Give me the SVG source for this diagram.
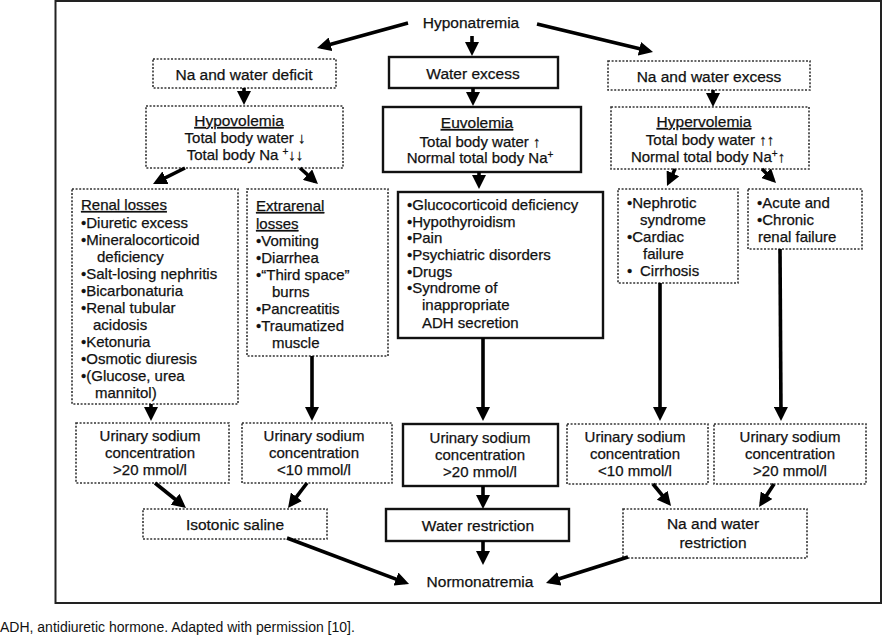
<svg xmlns="http://www.w3.org/2000/svg" width="883" height="636" viewBox="0 0 883 636">
<defs>
<style>
text{font-family:"Liberation Sans",Arial,Helvetica,sans-serif;font-size:15px;fill:#111;stroke:#111;stroke-width:0.25}
.c{text-anchor:middle}
.t{font-size:15.5px}
.u{text-decoration:underline}
.dot{fill:#fff;stroke:#333;stroke-width:1.6;stroke-dasharray:2 1.6}
.sol{fill:#fff;stroke:#111;stroke-width:2.4}
.ar{stroke:#000;stroke-width:3.6;fill:none;marker-end:url(#ah)}
.sup{font-size:10px}
</style>
<marker id="ah" markerUnits="userSpaceOnUse" markerWidth="14" markerHeight="14" viewBox="0 0 14 14" refX="10" refY="7" orient="auto">
<path d="M0,0 L14,7 L0,14 z" fill="#000"/>
</marker>
</defs>
<rect width="883" height="636" fill="#fff"/>
<rect x="55.5" y="1" width="825.5" height="602" fill="none" stroke="#222" stroke-width="2"/>

<g id="hyponatremia"><text class="c t" x="471" y="28">Hyponatremia</text></g>

<g id="na-water-deficit"><rect class="dot" x="153" y="59" width="183" height="29"/><text class="c t" x="244" y="80">Na and water deficit</text></g>
<g id="water-excess"><rect class="sol" x="389" y="57" width="169" height="31"/><text class="c t" x="473" y="79">Water excess</text></g>
<g id="na-water-excess"><rect class="dot" x="608" y="61" width="202" height="29"/><text class="c t" x="709" y="82">Na and water excess</text></g>

<g id="hypovolemia"><rect class="dot" x="146" y="106" width="197" height="62"/>
<text class="c t u" x="239" y="126">Hypovolemia</text>
<text class="c" x="245" y="143">Total body water ↓</text>
<text class="c" x="245" y="160">Total body Na <tspan class="sup" dy="-5">+</tspan><tspan dy="5">↓↓</tspan></text></g>

<g id="euvolemia"><rect class="sol" x="383" y="107" width="198" height="65"/>
<text class="c t u" x="477" y="128">Euvolemia</text>
<text class="c" x="480" y="147">Total body water ↑</text>
<text class="c" x="480" y="163">Normal total body Na<tspan class="sup" dy="-5">+</tspan></text></g>

<g id="hypervolemia"><rect class="dot" x="611" y="107" width="198" height="62"/>
<text class="c t u" x="704" y="127">Hypervolemia</text>
<text class="c" x="710" y="145">Total body water ↑↑</text>
<text class="c" x="708" y="162">Normal total body Na<tspan class="sup" dy="-5">+</tspan><tspan dy="5">↑</tspan></text></g>

<g id="renal-losses"><rect class="dot" x="72" y="189" width="166" height="215"/>
<text class="u" x="81" y="210">Renal losses</text>
<text x="81" y="228">•Diuretic excess</text>
<text x="81" y="245">•Mineralocorticoid</text>
<text x="97" y="262">deficiency</text>
<text x="81" y="279">•Salt-losing nephritis</text>
<text x="81" y="296">•Bicarbonaturia</text>
<text x="81" y="313">•Renal tubular</text>
<text x="93" y="330">acidosis</text>
<text x="81" y="347">•Ketonuria</text>
<text x="81" y="364">•Osmotic diuresis</text>
<text x="81" y="381">•(Glucose, urea</text>
<text x="95" y="398">mannitol)</text></g>

<g id="extrarenal-losses"><rect class="dot" x="247" y="189" width="141" height="167"/>
<text class="u" x="256" y="211">Extrarenal</text>
<text class="u" x="256" y="229">losses</text>
<text x="256" y="246">•Vomiting</text>
<text x="256" y="263">•Diarrhea</text>
<text x="256" y="280">•“Third space”</text>
<text x="272" y="297">burns</text>
<text x="256" y="314">•Pancreatitis</text>
<text x="256" y="331">•Traumatized</text>
<text x="272" y="348">muscle</text></g>

<g id="euvolemia-causes"><rect class="sol" x="398" y="192" width="205" height="146"/>
<text x="407" y="210">•Glucocorticoid deficiency</text>
<text x="407" y="227">•Hypothyroidism</text>
<text x="407" y="243">•Pain</text>
<text x="407" y="260">•Psychiatric disorders</text>
<text x="407" y="277">•Drugs</text>
<text x="407" y="293">•Syndrome of</text>
<text x="422" y="310">inappropriate</text>
<text x="422" y="328">ADH secretion</text></g>

<g id="nephrotic"><rect class="dot" x="618" y="189" width="120" height="94"/>
<text x="627" y="208">•Nephrotic</text>
<text x="640" y="225">syndrome</text>
<text x="627" y="242">•Cardiac</text>
<text x="643" y="259">failure</text>
<text x="627" y="276">•</text><text x="640" y="276">Cirrhosis</text></g>

<g id="renal-failure"><rect class="dot" x="748" y="189" width="114" height="60"/>
<text x="757" y="208">•Acute and</text>
<text x="757" y="225">•Chronic</text>
<text x="758" y="242">renal failure</text></g>

<g id="urinary-1"><rect class="dot" x="76" y="423" width="153" height="60"/>
<text class="c" x="150" y="441">Urinary sodium</text>
<text class="c" x="150" y="458">concentration</text>
<text class="c" x="150" y="475">&gt;20 mmol/l</text></g>
<g id="urinary-2"><rect class="dot" x="242" y="423" width="150" height="60"/>
<text class="c" x="314" y="441">Urinary sodium</text>
<text class="c" x="314" y="458">concentration</text>
<text class="c" x="314" y="475">&lt;10 mmol/l</text></g>
<g id="urinary-3"><rect class="sol" x="403" y="424" width="155" height="62"/>
<text class="c" x="480" y="443">Urinary sodium</text>
<text class="c" x="480" y="460">concentration</text>
<text class="c" x="480" y="477">&gt;20 mmol/l</text></g>
<g id="urinary-4"><rect class="dot" x="567" y="424" width="141" height="60"/>
<text class="c" x="635" y="442">Urinary sodium</text>
<text class="c" x="635" y="459">concentration</text>
<text class="c" x="635" y="476">&lt;10 mmol/l</text></g>
<g id="urinary-5"><rect class="dot" x="714" y="424" width="152" height="60"/>
<text class="c" x="790" y="442">Urinary sodium</text>
<text class="c" x="790" y="459">concentration</text>
<text class="c" x="790" y="476">&gt;20 mmol/l</text></g>

<g id="isotonic-saline"><rect class="dot" x="143" y="509" width="184" height="30"/><text class="c t" x="235" y="530">Isotonic saline</text></g>
<g id="water-restriction"><rect class="sol" x="386" y="509" width="183" height="32"/><text class="c t" x="478" y="531">Water restriction</text></g>
<g id="na-water-restriction"><rect class="dot" x="623" y="509" width="184" height="49"/>
<text class="c t" x="713" y="529">Na and water</text>
<text class="c t" x="713" y="548">restriction</text></g>

<g id="normonatremia"><text class="c t" x="480" y="587">Normonatremia</text></g>

<g id="connectors">
<line class="ar" x1="408" y1="23" x2="320.9" y2="46.9"/>
<line class="ar" x1="537" y1="24" x2="649.1" y2="51.1"/>
<line class="ar" x1="472" y1="36" x2="472" y2="52"/>
<line class="ar" x1="244" y1="88" x2="244" y2="101"/>
<line class="ar" x1="473" y1="88" x2="473" y2="102"/>
<line class="ar" x1="713" y1="90" x2="713" y2="103"/>
<line class="ar" x1="185" y1="168" x2="156.6" y2="182.2"/>
<line class="ar" x1="300" y1="168" x2="315" y2="181.3"/>
<line class="ar" x1="479" y1="172" x2="479" y2="185"/>
<line class="ar" x1="675" y1="169" x2="668.7" y2="182.4"/>
<line class="ar" x1="762" y1="169" x2="773.2" y2="180.2"/>
<line class="ar" x1="151" y1="404" x2="151" y2="417"/>
<line class="ar" x1="312" y1="356" x2="312" y2="417"/>
<line class="ar" x1="483" y1="338" x2="483" y2="417"/>
<line class="ar" x1="660" y1="283" x2="660" y2="417"/>
<line class="ar" x1="780" y1="249" x2="781" y2="417"/>
<line class="ar" x1="155" y1="483" x2="182.9" y2="505.5"/>
<line class="ar" x1="307" y1="483" x2="290.4" y2="504.8"/>
<line class="ar" x1="483" y1="486" x2="483" y2="505"/>
<line class="ar" x1="653" y1="484" x2="668.5" y2="502.9"/>
<line class="ar" x1="774" y1="484" x2="761.2" y2="503.6"/>
<line class="ar" x1="287" y1="538" x2="405.3" y2="582.6"/>
<line class="ar" x1="483" y1="541" x2="483" y2="561"/>
<line class="ar" x1="628" y1="557" x2="549.8" y2="581.8"/>
</g>

<text x="0" y="632" style="font-size:14px;stroke:none">ADH, antidiuretic hormone. Adapted with permission [10].</text>
</svg>
